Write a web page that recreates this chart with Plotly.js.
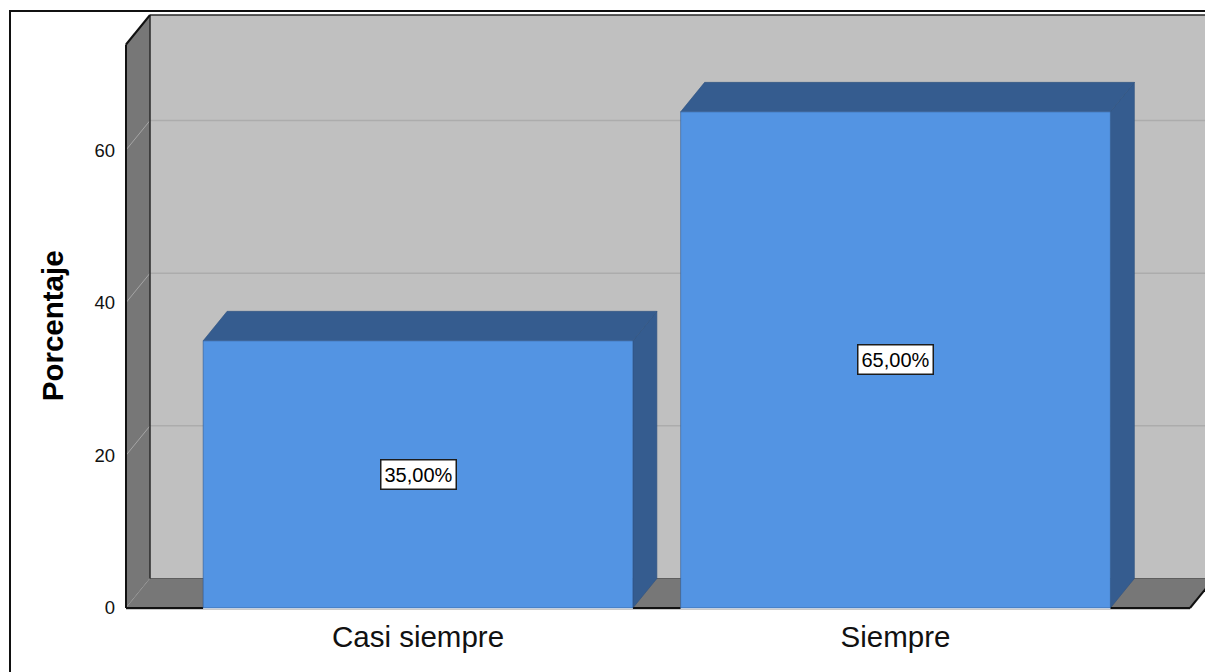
<!DOCTYPE html>
<html>
<head>
<meta charset="utf-8">
<script src="https://cdn.plot.ly/plotly-3.0.1.min.js"></script>
<style>
  html, body { margin: 0; padding: 0; background: #ffffff; }
  #chart { width: 1205px; height: 672px; }
</style>
</head>
<body>
<div id="chart"></div>
<script>
// ---------------- data ----------------
const categories = ['Casi siempre', 'Siempre'];
const percentages = [35, 65];
const yTickValues = [0, 20, 40, 60];
const yTickLabels = ['0', '20', '40', '60'];
const yAxisTitle = 'Porcentaje';

// ---------------- geometry (pixel layout of the 3D frame) ----------------
const W = 1205, H = 672;
const M = { l: 124, r: 0, t: 14, b: 62 };
const PX_PER_X = 477.5, X0_PX = 418;     // category 0 centre on the front plane
const PX_PER_Y = 7.633, Y0_PX = 608;     // value 0 on the front plane
const DEPTH_X_PX = 24, DEPTH_Y_PX = 29.5;
const BAR_WIDTH = 0.9;

const toX = px => (px - X0_PX) / PX_PER_X;
const toY = py => (Y0_PX - py) / PX_PER_Y;
const dx = DEPTH_X_PX / PX_PER_X;
const dy = DEPTH_Y_PX / PX_PER_Y;
const xL = toX(126), xR = toX(1190), yTop = toY(44.5);
const plotW = W - M.l - M.r, plotH = H - M.t - M.b;
const paperX = px => (px - M.l) / plotW;
const paperY = py => (H - M.b - py) / plotH;

const xPos = categories.map((_, i) => i);

const path = pts => 'M' + pts.map(p => p[0] + ',' + p[1]).join('L') + 'Z';
const poly = (pts, fill, lineColor, lw) => ({
  type: 'path', xref: 'x', yref: 'y', layer: 'below', path: path(pts),
  fillcolor: fill, line: { color: lineColor || fill, width: lw === undefined ? 0 : lw }
});
const seg = (x0, y0, x1, y1, color, width) => ({
  type: 'line', xref: 'x', yref: 'y', layer: 'below', x0, y0, x1, y1,
  line: { color, width }
});

const WALL = '#c0c0c0', SIDE = '#777777', FRONT = '#5394e3', DARK = '#355c8f';
const shapes = [];

// back wall
shapes.push(poly([[xL + dx, dy], [xR + dx, dy], [xR + dx, yTop + dy], [xL + dx, yTop + dy]], WALL));
// gridlines on back wall
yTickValues.filter(v => v > 0).forEach(v => shapes.push(seg(xL + dx, v + dy, xR + dx, v + dy, '#acacac', 1.5)));
// left wall
shapes.push(poly([[xL, 0], [xL + dx, dy], [xL + dx, yTop + dy], [xL, yTop]], SIDE));
// gridlines on left wall
yTickValues.forEach(v => shapes.push(seg(xL, v, xL + dx, v + dy, '#a5a5a5', 1)));
// floor
shapes.push(poly([[xL, 0], [xR, 0], [xR + dx, dy], [xL + dx, dy]], SIDE));
shapes.push(seg(xL + dx, dy, xR + dx, dy, '#5e5e5e', 1.2));
// back wall edges
shapes.push(seg(xL + dx, dy, xL + dx, yTop + dy, '#2a2a2a', 1.5));
shapes.push(seg(xL + dx, yTop + dy, xR + dx + 1, yTop + dy, '#2a2a2a', 1.5));

// 3D bar sides and tops
xPos.forEach((x, i) => {
  const v = percentages[i];
  const x0 = x - BAR_WIDTH / 2, x1 = x + BAR_WIDTH / 2;
  shapes.push(poly([[x1, 0], [x1 + dx, dy], [x1 + dx, v + dy], [x1, v]], DARK, '#2f527f', 0.6));
  shapes.push(poly([[x0, v], [x1, v], [x1 + dx, v + dy], [x0 + dx, v + dy]], DARK, '#2f527f', 0.6));
});

// outer black edges of the frame
shapes.push(seg(xL, 0, xL, yTop, '#111111', 2));
shapes.push(seg(xL, yTop, xL + dx, yTop + dy, '#111111', 2));
shapes.push(seg(xR, 0, xR + dx, dy, '#111111', 2));
// front floor edge, only where bars do not cover it
let cursor = xL;
xPos.forEach(x => {
  shapes.push(seg(cursor, 0, x - BAR_WIDTH / 2, 0, '#111111', 2));
  cursor = x + BAR_WIDTH / 2;
});
shapes.push(seg(cursor, 0, xR, 0, '#111111', 2));
// light baseline under the floor
shapes.push(seg(xL, -1.7 / PX_PER_Y - 0.05, xR, -1.7 / PX_PER_Y - 0.05, '#b8b8b8', 1.5));

// outer picture frame (paper coordinates)
shapes.push({
  type: 'rect', xref: 'paper', yref: 'paper', layer: 'above',
  x0: paperX(10), x1: paperX(1300), y0: paperY(800), y1: paperY(11),
  line: { color: '#111111', width: 2 }, fillcolor: 'rgba(0,0,0,0)'
});

const FONT = 'Liberation Sans, Arial, sans-serif';
const fmt = v => v.toFixed(2).replace('.', ',') + '%';
const annotations = xPos.map((x, i) => ({
  x: x, y: percentages[i] / 2, xref: 'x', yref: 'y',
  xanchor: 'center', yanchor: 'middle',
  text: fmt(percentages[i]), showarrow: false,
  font: { family: FONT, size: 20, color: '#000000' },
  bgcolor: '#ffffff', bordercolor: '#1c1c1c', borderwidth: 1.5, borderpad: 3
}));
annotations.push({
  xref: 'paper', yref: 'y', x: paperX(52), y: yTop / 2,
  xanchor: 'center', yanchor: 'middle',
  text: '<b>' + yAxisTitle + '</b>', textangle: -90, showarrow: false,
  font: { family: FONT, size: 29.5, color: '#000000' }
});

const trace = {
  type: 'bar', x: xPos, y: percentages, width: BAR_WIDTH,
  marker: { color: FRONT, line: { color: 'rgba(45,85,140,0.55)', width: 1 } },
  hoverinfo: 'skip'
};

const layout = {
  width: W, height: H,
  margin: M,
  paper_bgcolor: '#ffffff', plot_bgcolor: 'rgba(0,0,0,0)',
  showlegend: false,
  font: { family: FONT, color: '#111111' },
  xaxis: {
    range: [toX(M.l), toX(W - M.r)], tickvals: xPos, ticktext: categories,
    showgrid: false, zeroline: false, showline: false, ticks: '',
    tickfont: { size: 29.5, color: '#111111' }, ticklabelstandoff: 6, fixedrange: true
  },
  yaxis: {
    range: [toY(H - M.b), toY(M.t)], tickvals: yTickValues, ticktext: yTickLabels,
    showgrid: false, zeroline: false, showline: false, ticks: '',
    tickfont: { size: 18.5, color: '#111111' }, ticklabelstandoff: 8, fixedrange: true
  },
  shapes: shapes,
  annotations: annotations
};

Plotly.newPlot('chart', [trace], layout, { staticPlot: true, displayModeBar: false });
</script>
</body>
</html>
